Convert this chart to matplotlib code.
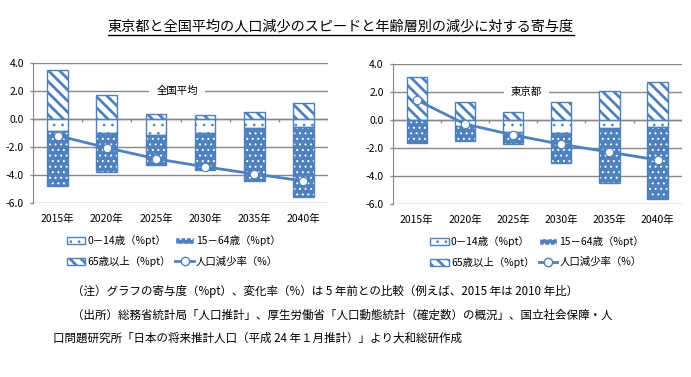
import matplotlib
matplotlib.use("Agg")
import matplotlib.pyplot as plt
from matplotlib.patches import Patch
from matplotlib.lines import Line2D
import numpy as np

plt.rcParams['font.family'] = ['Noto Sans CJK JP', 'DejaVu Sans']

# データ（寄与度 %pt、変化率 %）
years = ['2015年', '2020年', '2025年', '2030年', '2035年', '2040年']

zenkoku_0_14 = [-0.84, -1.03, -1.13, -1.03, -0.67, -0.55]
zenkoku_15_64 = [-3.93, -2.73, -2.13, -2.63, -3.74, -5.01]
zenkoku_65 = [3.47, 1.68, 0.31, 0.24, 0.46, 1.13]
zenkoku_rate = [-1.2, -2.06, -2.85, -3.42, -3.93, -4.43]

tokyo_0_14 = [0.0, -0.43, -0.83, -0.90, -0.60, -0.48]
tokyo_15_64 = [-1.67, -1.07, -0.91, -2.20, -3.88, -5.14]
tokyo_65 = [3.05, 1.26, 0.60, 1.31, 2.10, 2.74]
tokyo_rate = [1.43, -0.29, -1.07, -1.74, -2.29, -2.86]

BLUE = '#4f81bd'
GRID = '#888888'
DOT_LW = 0.7
STRIPE_LW = 2.0

plt.rcParams['hatch.linewidth'] = DOT_LW

fig = plt.figure(figsize=(6.91, 3.77), dpi=100)


def hatch_lw(patches, lw):
    for p in patches:
        if hasattr(p, 'set_hatch_linewidth'):
            p.set_hatch_linewidth(lw)


def draw_panel(ax, c0, c1, c65, rate, label, label_x, leg_x):
    x = np.arange(len(years))
    w = 0.42
    c0 = np.array(c0)
    c1 = np.array(c1)
    c65 = np.array(c65)
    # 0-14歳
    bars = ax.bar(x, c0, w, color='white', edgecolor=BLUE, hatch='..',
                  linewidth=0, zorder=2)
    hatch_lw(bars, DOT_LW)
    ax.bar(x, c0, w, fill=False, edgecolor=BLUE, linewidth=1, zorder=3)
    # 15-64歳
    b1 = np.where(c0 < 0, c0, 0)
    bars = ax.bar(x, c1, w, bottom=b1, color=BLUE, edgecolor='white', hatch='...',
                  linewidth=0, zorder=2)
    hatch_lw(bars, DOT_LW)
    ax.bar(x, c1, w, bottom=b1, fill=False, edgecolor=BLUE, linewidth=1, zorder=3)
    # 65歳以上
    b65 = np.where(c0 > 0, c0, 0)
    bars = ax.bar(x, c65, w, bottom=b65, color='white', edgecolor=BLUE, hatch='\\\\\\',
                  linewidth=0, zorder=2)
    hatch_lw(bars, STRIPE_LW)
    ax.bar(x, c65, w, bottom=b65, fill=False, edgecolor=BLUE, linewidth=1, zorder=3)
    # 人口減少率
    ax.plot(x, rate, color=BLUE, lw=2, marker='o', ms=6, mfc='white',
            mec=BLUE, mew=0.8, zorder=4)

    ax.set_xlim(-0.5, 5.5)
    ax.set_ylim(-6, 4)
    ax.set_yticks([4, 2, 0, -2, -4, -6])
    ax.set_yticklabels(['4.0', '2.0', '0.0', '-2.0', '-4.0', '-6.0'])
    ax.set_xticks(x)
    ax.set_xticklabels(years)
    ax.tick_params(axis='x', length=0, pad=8, labelsize=7.5)
    ax.tick_params(axis='y', length=2.5, width=1, color=GRID, pad=4, labelsize=7.5)
    ax.yaxis.grid(True, color=GRID, lw=1, zorder=0)
    ax.set_axisbelow(True)
    for s in ['top', 'right', 'bottom']:
        ax.spines[s].set_visible(False)
    ax.spines['left'].set_color(GRID)
    # 横軸 (0の位置) と目盛
    ax.axhline(0, color=GRID, lw=1, zorder=1)
    ax.vlines(np.arange(-0.5, 6, 1.0), -0.25, 0, color=GRID, lw=1, zorder=1)
    ax.text(label_x, 2.0, label, ha='center', va='center', fontsize=7.5, zorder=5,
            bbox=dict(facecolor='white', edgecolor='none', pad=5))

    p0 = Patch(facecolor='white', edgecolor=BLUE, hatch='..', label='0－14歳（%pt）')
    p1 = Patch(facecolor=BLUE, edgecolor='white', hatch='...', label='15－64歳（%pt）')
    p65 = Patch(facecolor='white', edgecolor=BLUE, hatch='\\\\\\', label='65歳以上（%pt）')
    hatch_lw([p65], STRIPE_LW)
    handles = [
        p0, p65, p1,
        Line2D([], [], color=BLUE, lw=2, marker='o', ms=6, mfc='white', mec=BLUE,
               label='人口減少率（%）'),
    ]
    leg = ax.legend(handles=handles, ncol=2, loc='upper left', bbox_to_anchor=(leg_x, -0.2),
                    frameon=False, fontsize=7.5, handlelength=1.8, handleheight=0.7,
                    handletextpad=0.2, columnspacing=0.4, labelspacing=0.95,
                    borderaxespad=0)
    for h in leg.get_patches():
        if h.get_hatch() == '\\\\\\':
            hatch_lw([h], STRIPE_LW)


ax1 = fig.add_axes([0.0478, 0.4615, 0.4269, 0.3722])
draw_panel(ax1, zenkoku_0_14, zenkoku_15_64, zenkoku_65, zenkoku_rate, '全国平均', 2.43, 0.1)

ax2 = fig.add_axes([0.5683, 0.4589, 0.4182, 0.3714])
draw_panel(ax2, tokyo_0_14, tokyo_15_64, tokyo_65, tokyo_rate, '東京都', 2.27, 0.115)

# タイトル (下線付き)
title = fig.text(0.4935, 1 - 27 / 377, '東京都と全国平均の人口減少のスピードと年齢層別の減少に対する寄与度',
                 ha='center', va='center', fontsize=10.2)
fig.canvas.draw()
bb = title.get_window_extent().transformed(fig.transFigure.inverted())
fig.add_artist(Line2D([bb.x0, bb.x1], [bb.y0 - 0.003, bb.y0 - 0.003],
                      color='black', lw=1, transform=fig.transFigure))

# 注記
fig.text(72 / 691, 1 - 292 / 377,
         '（注）グラフの寄与度（%pt）、変化率（%）は 5 年前との比較（例えば、2015 年は 2010 年比）',
         ha='left', va='center', fontsize=8.3)
fig.text(72 / 691, 1 - 315 / 377,
         '（出所）総務省統計局「人口推計」、厚生労働省「人口動態統計（確定数）の概況」、国立社会保障・人',
         ha='left', va='center', fontsize=8.3)
fig.text(53 / 691, 1 - 338 / 377,
         '口問題研究所「日本の将来推計人口（平成 24 年１月推計）」より大和総研作成',
         ha='left', va='center', fontsize=8.3)

fig.savefig('out.png', dpi=100)
